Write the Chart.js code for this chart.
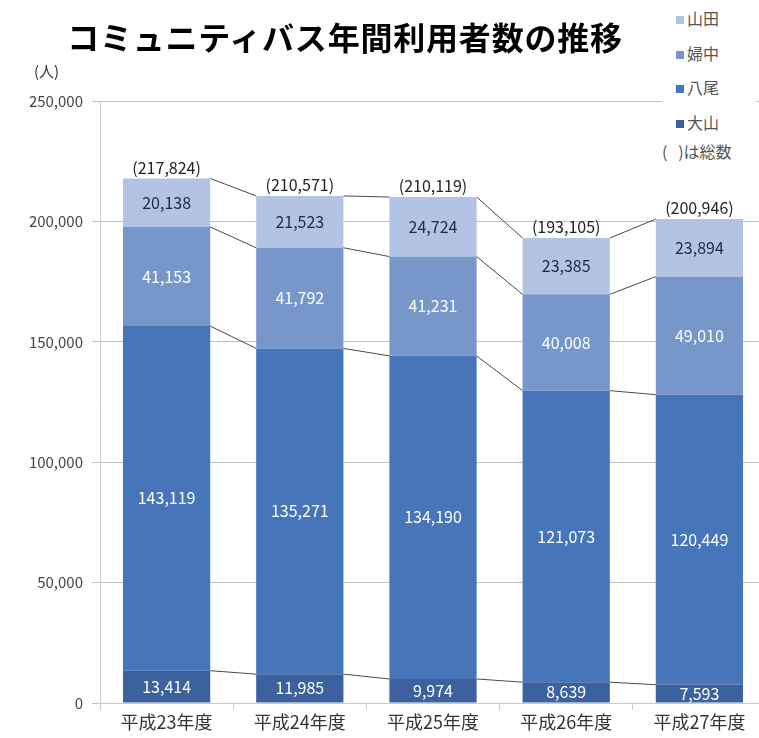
<!DOCTYPE html>
<html>
<head>
<meta charset="utf-8">
<script src="https://cdn.jsdelivr.net/npm/chart.js@4"></script>
<style>
    html, body { margin: 0; padding: 0; background: #fff; overflow: hidden; }
    body { width: 759px; height: 738px; position: relative; font-family: "Noto Sans CJK JP", "Noto Sans", sans-serif; }
    #wrap { position: absolute; left: 0; top: 0; width: 766px; height: 738px; }
    #title { position: absolute; left: 0; width: 690px; top: 13px; text-align: center; font-size: 32px; font-weight: bold; color: #000; letter-spacing: 0.8px; }
    #unit { position: absolute; left: 34px; top: 60px; font-size: 15px; color: #333; }
    #legend { position: absolute; left: 662px; top: 5px; width: 94px; background: #fff; font-size: 16px; color: #555; }
    #legend div { height: 34.7px; line-height: 26px; padding-left: 14px; }
    #legend span.sw { display: inline-block; width: 8px; height: 8px; margin-right: 3px; vertical-align: 1px; }
    #legend div.note { height: 26px; margin-top: -6px; padding-left: 0; white-space: pre; }
</style>
</head>
<body>
<div id="wrap"><canvas id="chart" width="766" height="738"></canvas></div>
<div id="title">コミュニティバス年間利用者数の推移</div>
<div id="unit">(人)</div>
<div id="legend"></div>
<script>
const categories = ['平成23年度', '平成24年度', '平成25年度', '平成26年度', '平成27年度'];
const seriesNames = ['大山', '八尾', '婦中', '山田'];
const oyama = [13414, 11985, 9974, 8639, 7593];
const yao = [143119, 135271, 134190, 121073, 120449];
const fuchu = [41153, 41792, 41231, 40008, 49010];
const yamada = [20138, 21523, 24724, 23385, 23894];
const totals = [217824, 210571, 210119, 193105, 200946];

const seriesValues = [oyama, yao, fuchu, yamada];
const seriesColors = ['#3b629f', '#4675ba', '#7797cb', '#b2c3e3'];
const labelColors = ['#ffffff', '#ffffff', '#ffffff', '#1e2a40'];

const fontFamily = '"Noto Sans CJK JP", "Noto Sans", sans-serif';
const fmt = v => v.toLocaleString('en-US');

// legend (top = 山田)
const legendEl = document.getElementById('legend');
for (let i = seriesNames.length - 1; i >= 0; i--) {
    const row = document.createElement('div');
    row.innerHTML = `<span class="sw" style="background:${seriesColors[i]}"></span>${seriesNames[i]}`;
    legendEl.appendChild(row);
}
const note = document.createElement('div');
note.className = 'note';
note.textContent = '(   )は総数';
legendEl.appendChild(note);

// connector lines between stacked segments + labels
const stackExtras = {
    id: 'stackExtras',
    afterDatasetsDraw(chart) {
        const ctx = chart.ctx;
        const metas = chart.data.datasets.map((d, i) => chart.getDatasetMeta(i));
        ctx.save();
        ctx.strokeStyle = '#4a4a4a';
        ctx.lineWidth = 1;
        metas.forEach(meta => {
            for (let j = 0; j < meta.data.length - 1; j++) {
                const a = meta.data[j], b = meta.data[j + 1];
                ctx.beginPath();
                ctx.moveTo(a.x + a.width / 2, a.y);
                ctx.lineTo(b.x - b.width / 2, b.y);
                ctx.stroke();
            }
        });
        // segment values
        ctx.font = '16px ' + fontFamily;
        ctx.textAlign = 'center';
        ctx.textBaseline = 'middle';
        metas.forEach((meta, i) => {
            meta.data.forEach((bar, j) => {
                ctx.fillStyle = labelColors[i];
                ctx.fillText(fmt(seriesValues[i][j]), bar.x, (bar.y + bar.base) / 2);
            });
        });
        // totals
        const yScale = chart.scales.y;
        ctx.fillStyle = '#222';
        ctx.textBaseline = 'bottom';
        totals.forEach((t, j) => {
            const x = metas[0].data[j].x;
            ctx.fillText('(' + fmt(t) + ')', x, yScale.getPixelForValue(t) - 3);
        });
        ctx.restore();
    }
};

new Chart(document.getElementById('chart'), {
    type: 'bar',
    data: {
        labels: categories,
        datasets: seriesNames.map((name, i) => ({
            label: name,
            data: seriesValues[i],
            backgroundColor: seriesColors[i],
            borderWidth: 0,
            categoryPercentage: 0.655,
            barPercentage: 1
        }))
    },
    options: {
        responsive: false,
        animation: false,
        layout: { padding: { top: 101, right: 0, left: 0, bottom: 0 } },
        plugins: {
            legend: { display: false },
            tooltip: { enabled: false }
        },
        scales: {
            x: {
                stacked: true,
                grid: { drawOnChartArea: false, drawTicks: true, tickLength: 7, color: '#c8c8c8', offset: true },
                border: { color: '#c8c8c8' },
                ticks: { color: '#333', font: { family: fontFamily, size: 18 }, padding: 1 },
                afterFit(scale) { scale.height = 35; }
            },
            y: {
                stacked: true,
                min: 0,
                max: 250000,
                ticks: {
                    stepSize: 50000,
                    color: '#444',
                    font: { family: fontFamily, size: 15 },
                    padding: 9,
                    callback: v => fmt(v)
                },
                grid: { color: '#c0c0c0', tickLength: 8 },
                border: { color: '#d0d0d0' },
                afterFit(scale) { scale.width = 100; }
            }
        }
    },
    plugins: [stackExtras]
});
</script>
</body>
</html>
